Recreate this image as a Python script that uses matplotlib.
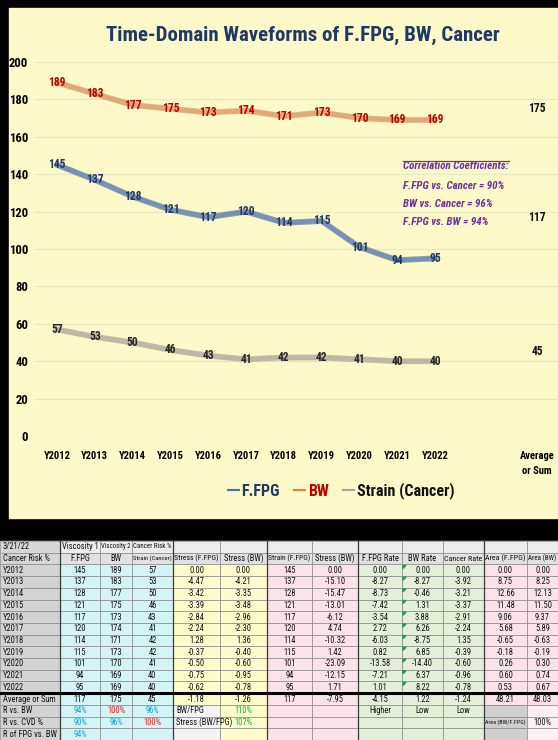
import matplotlib
matplotlib.use("Agg")
import matplotlib.pyplot as plt
import matplotlib.patheffects as pe
from matplotlib import font_manager as fm
from matplotlib.lines import Line2D
from matplotlib.patches import Rectangle, Polygon

# pick a narrow face if the system has one (the reference uses a condensed font)
prefer = ['Liberation Sans Narrow', 'DejaVu Sans Condensed', 'Roboto Condensed',
          'Noto Sans Condensed', 'Open Sans Condensed', 'Noto Sans', 'Roboto', 'Open Sans']
found = {}
for f in fm.fontManager.ttflist:
    if f.stretch in ('condensed', 'semi-condensed', 'extra-condensed') or \
            'Narrow' in f.name or 'Condensed' in f.name:
        found.setdefault(f.name, f.stretch)
FAMILY, STRETCH = 'Liberation Sans', 'normal'
for name in prefer:
    if name in found:
        FAMILY, STRETCH = name, found[name]
        break
plt.rcParams['font.family'] = [FAMILY, 'DejaVu Sans']
plt.rcParams['font.stretch'] = STRETCH

# chart data
years = ["Y2012", "Y2013", "Y2014", "Y2015", "Y2016", "Y2017",
         "Y2018", "Y2019", "Y2020", "Y2021", "Y2022"]
ffpg = [145, 137, 128, 121, 117, 120, 114, 115, 101, 94, 95]
bw = [189, 183, 177, 175, 173, 174, 171, 173, 170, 169, 169]
strain = [57, 53, 50, 46, 43, 41, 42, 42, 41, 40, 40]
avg_label = "Average\nor Sum"
avg_ffpg, avg_bw, avg_strain = 117, 175, 45
title = "Time-Domain Waveforms of F.FPG, BW, Cancer"
corr_lines = ["Correlation Coefficients:", "F.FPG vs. Cancer = 90%",
              "BW vs. Cancer = 96%", "F.FPG vs. BW = 94%"]
legend_labels = ["F.FPG", "BW", "Strain (Cancer)"]

# table data
stress_ffpg = ["0.00", "-4.47", "-3.42", "-3.39", "-2.84", "-2.24", "1.28", "-0.37", "-0.50", "-0.75", "-0.62"]
stress_bw = ["0.00", "-4.21", "-3.35", "-3.48", "-2.96", "-2.30", "1.36", "-0.40", "-0.60", "-0.95", "-0.78"]
stress_bw2 = ["0.00", "-15.10", "-15.47", "-13.01", "-6.12", "4.74", "-10.32", "1.42", "-23.09", "-12.15", "1.71"]
ffpg_rate = ["0.00", "-8.27", "-8.73", "-7.42", "-3.54", "2.72", "-6.03", "0.82", "-13.58", "-7.21", "1.01"]
bw_rate = ["0.00", "-8.27", "-0.46", "1.31", "3.88", "6.26", "-8.75", "6.85", "-14.40", "6.37", "8.22"]
cancer_rate = ["0.00", "-3.92", "-3.21", "-3.37", "-2.91", "-2.24", "1.35", "-0.39", "-0.60", "-0.96", "-0.78"]
area_ffpg = ["0.00", "8.75", "12.66", "11.48", "9.06", "5.68", "-0.65", "-0.18", "0.26", "0.60", "0.53"]
area_bw = ["0.00", "8.25", "12.13", "11.50", "9.37", "5.89", "-0.63", "-0.19", "0.30", "0.74", "0.67"]
avg_row = ["Average or Sum", "117", "175", "45", "-1.18", "-1.26", "117", "-7.95",
           "-4.15", "1.22", "-1.24", "48.21", "48.03"]
head1 = ["3/21/22", "Viscosity 1", "Viscosity 2", "Cancer Risk %"] + [""] * 9
head2 = ["Cancer Risk %", "F.FPG", "BW", "Strain (Cancer)", "Stress (F.FPG)", "Stress (BW)",
         "Strain (F.FPG)", "Stress (BW)", "F.FPG Rate", "BW Rate", "Cancer Rate",
         "Area (F.FPG)", "Area (BW)"]
extra_rows = [
    ["R vs. BW", "94%", "100%", "96%", "BW/FPG", "110%", "", "", "Higher", "Low", "Low", "", ""],
    ["R vs. CVD %", "90%", "96%", "100%", "Stress (BW/FPG)", "107%", "", "", "", "", "", "Area (BW/F.FPG)", "100%"],
    ["R of FPG vs. BW", "94%", "", "", "", "", "", "", "", "", "", "", ""],
]

fig = plt.figure(figsize=(5.58, 7.40), dpi=100)
fig.patch.set_facecolor('black')
renderer = fig.canvas.get_renderer()


def size_for(s, width, weight='bold', style='normal'):
    t = fig.text(0, 0, s, fontsize=10, fontweight=weight, style=style)
    w = t.get_window_extent(renderer).width
    t.remove()
    return 10 * width / w


bg = fig.add_axes([0, 0, 1, 1])
bg.set_xlim(0, 558)
bg.set_ylim(740, 0)
bg.axis('off')
bg.add_patch(Rectangle((9, 8), 549, 510, color='#fdf9c9', zorder=0))
bg.add_patch(Rectangle((0, 541), 558, 200, color='white', zorder=0))

# ---- chart ----
lab_size = size_for("189", 17.5)
xt_size = size_for("Y2012", 27)
yt_size = size_for("200", 19)

ax = fig.add_axes([35 / 558, (740 - 436) / 740, 523 / 558, 374 / 740])
ax.patch.set_alpha(0)
ax.set_xlim(-0.582, 13.25)
ax.set_ylim(0, 200)
for s in ax.spines.values():
    s.set_visible(False)
ax.set_yticks(range(0, 201, 20))
ax.grid(axis='y', color='#ebe6bd', lw=0.9)
ax.set_axisbelow(True)
x = list(range(len(years)))
avg_x = 12.7
ax.set_xticks(x + [avg_x])
ax.set_xticklabels(years + [avg_label], fontweight='bold', fontsize=xt_size, linespacing=1.6)
ax.tick_params(axis='x', length=0, pad=11)
ax.tick_params(axis='y', length=0, pad=5, labelsize=yt_size)
for t in ax.get_yticklabels():
    t.set_fontweight('bold')

series = [
    (bw, '#e6a777', '#c98a5e', '#c00000'),
    (ffpg, '#7590bb', '#4a618a', '#1f3864'),
    (strain, '#bdb8a6', '#9d987f', '#262626'),
]
for vals, col, edge, lab in series:
    ax.plot(x, vals, color=col, lw=2.8, solid_capstyle='round', solid_joinstyle='round',
            path_effects=[pe.Stroke(linewidth=4.2, foreground=edge, alpha=0.6), pe.Normal()])
    for xi, v in zip(x, vals):
        ax.text(xi, v, str(v), ha='center', va='center', color=lab,
                fontsize=lab_size, fontweight='bold')

for v in (avg_bw, avg_ffpg, avg_strain):
    ax.text(avg_x, v, str(v), ha='center', va='center', color='#111111',
            fontsize=lab_size, fontweight='bold')

fig.text(303 / 558, 1 - 35 / 740, title, ha='center', va='center',
         fontsize=size_for(title, 393), fontweight='bold', color='#1f3864')

corr_size = size_for(corr_lines[0], 106, style='italic')
corr_y = [166, 186, 204, 222]
ctexts = []
for s, yy in zip(corr_lines, corr_y):
    ctexts.append(bg.text(403, yy, s, ha='left', va='center', color='#7030a0',
                          fontsize=corr_size, fontweight='bold', style='italic'))

handles = [Line2D([], [], color=c, lw=1.5) for c in ('#4472c4', '#ed7d31', '#a5a5a5')]


def make_legend(size):
    lg = fig.legend(handles, legend_labels, loc='center',
                    bbox_to_anchor=(341 / 558, 1 - 491 / 740), ncol=3, frameon=False,
                    handlelength=0.7, handletextpad=0.15, columnspacing=0.9,
                    borderaxespad=0, borderpad=0,
                    prop=dict(family=[FAMILY, 'DejaVu Sans'], stretch=STRETCH,
                              size=size, weight='bold'))
    for t, c in zip(lg.get_texts(), ('#1f3864', '#c00000', '#111111')):
        t.set_color(c)
    return lg


leg = make_legend(12)
lw_px = leg.get_window_extent(renderer).width
leg.remove()
leg = make_legend(12 * 227 / lw_px)

# ---- table ----
edges = [0, 60, 100, 132, 173, 220, 267, 312, 358, 402, 443, 484, 527, 570]
row_top = 541
row_h = 11.7
col_fill = ['#d3d3d3', '#d3f3f6', '#d3f3f6', '#d3f3f6', '#fffccb', '#fffccb',
            '#fbe2ea', '#fbe2ea', '#e3efd9', '#e3efd9', '#e3efd9', '#fbe2ea', '#fbe2ea']
tab_size = size_for("Cancer Risk %", 47, weight='normal')

rows = [head1, head2]
for i in range(len(years)):
    rows.append([years[i], str(ffpg[i]), str(bw[i]), str(strain[i]), stress_ffpg[i],
                 stress_bw[i], str(ffpg[i]), stress_bw2[i], ffpg_rate[i], bw_rate[i],
                 cancer_rate[i], area_ffpg[i], area_bw[i]])
rows.append(avg_row)
rows += extra_rows

blue, red, green = '#1aa3d9', '#ff1a1a', '#18b050'
cell_texts = []
for r, row in enumerate(rows):
    y0 = row_top + r * row_h
    for c, txt in enumerate(row):
        x0, x1 = edges[c], min(edges[c + 1], 558)
        if r == 0:
            fc = '#d6d6d6' if c == 0 else '#ececec'
        elif r == 1:
            fc = '#d6d6d6' if c == 0 else '#e1e1e1'
        elif r >= 14 and c == 4:
            fc = '#f3f3f3'
        elif r >= 14 and c == 11:
            fc = '#cfcfcf'
        elif r >= 14 and c == 12:
            fc = '#fdf0f4'
        else:
            fc = col_fill[c]
        bg.add_patch(Rectangle((x0, y0), edges[c + 1] - x0, row_h, facecolor=fc,
                               edgecolor='#8a8a8a', lw=0.5, zorder=1))
        if not txt:
            continue
        color = '#111111'
        if c >= 1 and txt.endswith('%') and r >= 14:
            color = red if txt == '100%' and c < 4 else blue
            if c == 5:
                color = green
            if c == 12:
                color = '#111111'
        ty = y0 + row_h / 2 + (0.8 if r == 13 else 0)
        if c == 0 or (c == 4 and r >= 14):
            t = bg.text(x0 + 3, ty, txt, ha='left', va='center',
                        fontsize=tab_size, color=color, zorder=5)
            room = (x1 - x0 - 4) if c == 0 else (edges[6] - x0 - 4)
        else:
            t = bg.text((x0 + x1) / 2, ty, txt, ha='center', va='center',
                        fontsize=tab_size, color=color, zorder=5)
            room = x1 - x0 - 3
        cell_texts.append((t, room))
    if 2 <= r <= 12:
        xb = edges[9]
        bg.add_patch(Polygon([[xb + 1, y0 + 1], [xb + 4, y0 + 1], [xb + 1, y0 + 4]],
                             color='#1e9a4a', zorder=3))

# shrink any cell text that would spill over its cell
for t, room in cell_texts:
    w = t.get_window_extent(renderer).width
    if w > room:
        t.set_fontsize(t.get_fontsize() * room / w)

ybot = row_top + len(rows) * row_h
for xe in (60, 173, 267, 358, 484):
    bg.plot([xe, xe], [row_top, ybot], color='#3a3a3a', lw=0.9, zorder=2)
yk = row_top + 13 * row_h
bg.plot([0, 558], [yk, yk], color='black', lw=2.2, zorder=4)

# underline for the correlation heading
fig.canvas.draw()
bb = ctexts[0].get_window_extent(renderer).transformed(bg.transData.inverted())
bg.plot([bb.x0, bb.x1], [bb.y1 + 0.3, bb.y1 + 0.3], color='#7030a0', lw=0.9)

fig.savefig("out.png", dpi=100, facecolor=fig.get_facecolor())
